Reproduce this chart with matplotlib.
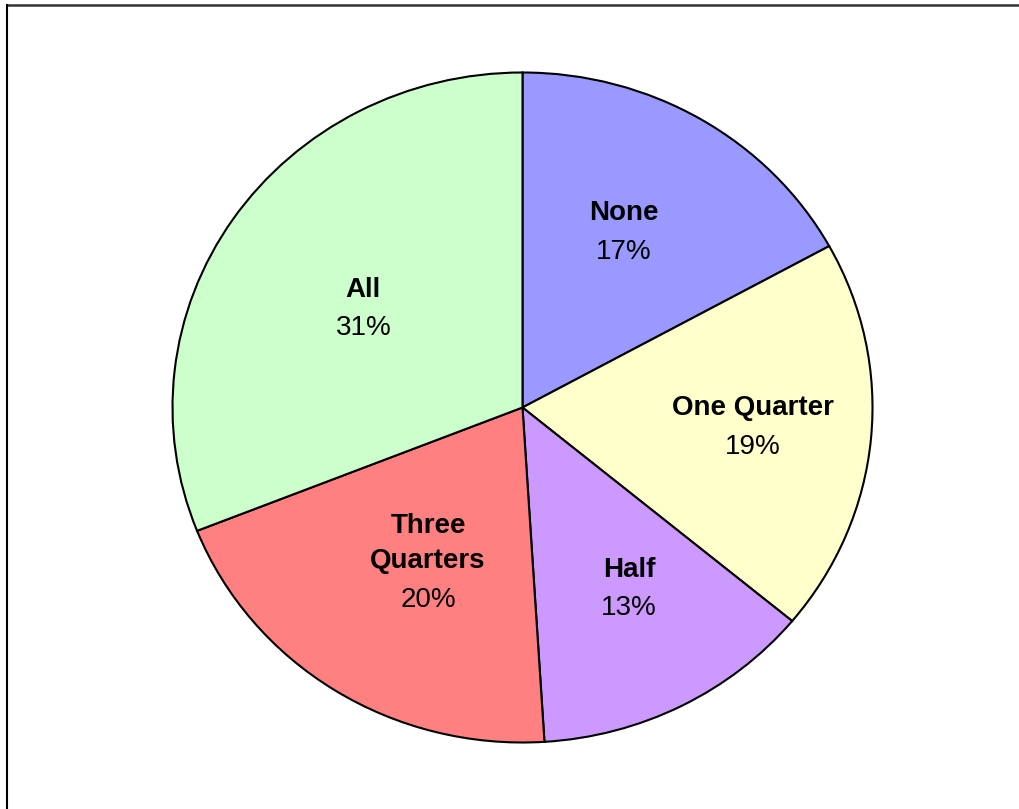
import numpy as np
import matplotlib.pyplot as plt
from matplotlib.lines import Line2D

# Data
categories = ['None', 'One Quarter', 'Half', 'Three\nQuarters', 'All']
values = [17, 19, 13, 20, 31]
colors = ['#9999FF', '#FFFFCC', '#CC99FF', '#FF8080', '#CCFFCC']

# label placement: radius along the wedge's mid angle plus a small nudge (points)
label_r = [0.59, 0.66, 0.61, 0.57, 0.55]
nudge = [(-3, 3), (0, 0), (7, 0), (9, -9), (0, -4)]

plt.rcParams['font.family'] = ['Liberation Sans', 'DejaVu Sans']

fig = plt.figure(figsize=(10.2, 8.09), dpi=100)
ax = fig.add_axes([172.5 / 1020, 66.5 / 809, 700 / 1020, 670 / 809])

wedges, _ = ax.pie(values, colors=colors, startangle=90, counterclock=False,
                   wedgeprops=dict(edgecolor='black', linewidth=1.5))
ax.set_aspect('auto')
ax.set_xlim(-1, 1)
ax.set_ylim(-1, 1)

# labels: bold name, regular percentage underneath
for w, name, v, r, (nx, ny) in zip(wedges, categories, values, label_r, nudge):
    ang = np.deg2rad((w.theta1 + w.theta2) / 2)
    x, y = r * np.cos(ang), r * np.sin(ang)
    ax.annotate(name, (x, y), xytext=(nx, ny + 5), textcoords='offset points',
                ha='center', va='bottom', fontsize=20, fontweight='bold',
                linespacing=1.45)
    ax.annotate(f'{v}%', (x, y), xytext=(nx, ny - 4), textcoords='offset points',
                ha='center', va='top', fontsize=20)

# chart frame (top and left edges visible)
fig.add_artist(Line2D([7 / 1020, 1], [1 - 5 / 809, 1 - 5 / 809],
                      transform=fig.transFigure, color='#333333', linewidth=1.8))
fig.add_artist(Line2D([7 / 1020, 7 / 1020], [0, 1 - 5 / 809],
                      transform=fig.transFigure, color='black', linewidth=1.5))

fig.savefig('out.png', dpi=100)
